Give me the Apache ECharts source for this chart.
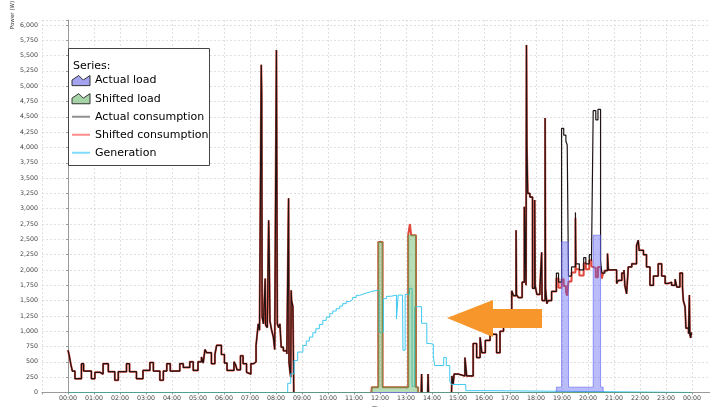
<!DOCTYPE html>
<html><head><meta charset="utf-8">
<script src="https://cdn.jsdelivr.net/npm/echarts/dist/echarts.min.js"></script>
<style>html,body{margin:0;padding:0;background:#fff}#c{width:710px;height:407px}</style>
</head><body><div id="c"></div>
<script>
// ---- tick labels ----
const yTickStep = 250;
const yMaxTick = 6000;

// ---- Actual consumption (W), step series ----
const consTimes = ['00:00','00:03','00:06','00:10','00:16','00:31','00:36','00:54','01:02','01:14','01:21','01:33','01:48','01:56','02:15','02:22','02:38','02:53','03:09','03:17','03:32','03:40','03:48','03:56','04:18','04:26','04:41','04:49','05:00','05:08','05:12','05:16','05:20','05:31','05:39','05:43','05:54','06:01','06:07','06:23','06:27','06:30','06:38','06:44','06:52','06:56','07:02','07:08','07:14','07:17','07:19','07:22','07:26','07:27','07:28','07:31','07:35','07:36','07:40','07:43','07:44','07:46','07:50','07:54','07:57','08:01','08:03','08:06','08:09','08:12','08:17','08:25','08:29','08:30','08:32','08:34','08:35','08:36','08:39','08:41','08:42',
'13:35','13:36','13:37','13:38','13:50','13:51','13:52','13:53',
'14:45','14:46','14:49','14:51','15:01','15:16','15:20','15:35','15:43','15:51','15:55','16:03','16:14','16:29','16:37','16:45','16:52','17:04','17:08','17:14','17:15','17:19','17:28','17:33','17:37','17:38','17:39','17:41','17:46','17:52','17:57','17:58','18:02','18:09','18:13','18:14','18:21','18:22','18:25','18:28','18:36','18:47','18:52','18:59','19:04','19:09','19:12','19:15','19:22','19:31','19:32','19:40','19:50','19:55','20:03','20:08','20:12','20:18','20:23','20:29','20:32','20:39','20:45','20:47','21:06','21:10','21:18','21:23','21:25','21:29','21:33','21:41','21:52','21:56','21:58','22:08','22:15','22:23','22:31','22:42','22:50','22:58','23:05','23:13','23:21','23:25','23:32','23:38','23:40','23:44','23:46','23:52','23:54','23:55','23:57','23:58','23:59'];
const consActual = [690,600,480,350,225,470,350,225,330,300,470,340,200,340,470,340,225,360,490,350,200,350,470,350,470,410,500,360,500,580,480,700,650,470,620,770,620,480,360,500,450,370,600,470,330,300,470,500,770,980,1120,1015,5350,4880,1230,1120,1860,1100,1060,2810,2480,1170,1015,900,700,5590,1120,1060,1120,740,680,630,3170,500,360,250,1670,1500,1400,0,null,
0,300,0,null,0,300,0,null,
0,270,140,300,270,570,270,800,570,900,650,850,950,650,1000,1280,1300,1660,1580,2650,1600,1550,1800,3030,1750,5670,4010,3250,3190,1700,3140,1750,1600,1700,2290,1500,4480,1700,1450,1500,1650,1950,1800,4310,4200,4100,4040,1900,2050,2940,2100,2000,2200,2100,2250,2150,4600,4450,4620,2150,1950,1990,2270,2000,1780,1830,1950,2000,1750,1610,2050,2100,2400,2485,2320,2250,2050,1750,1900,2100,1900,1780,1800,1750,1850,1720,1950,1720,1500,1400,1050,960,1590,950,890,980,940];

// ---- Shifted consumption: where it differs from actual consumption ----
const shiftMidTimes = ['11:40','11:41','11:56','12:06','13:05','13:09','13:12','13:23','13:28','13:29'];
const shiftMidValues = [0,87,2457,87,2567,2750,2567,87,0,null];
const shiftEveTimes = ['18:47','18:52','18:59','19:04','19:09','19:12','19:15','19:22','19:31','19:32','19:40','19:50','19:55','20:03','20:08','20:12','20:18','20:23','20:29','20:32','20:35'];
const shiftEveValues = [1860,1710,1850,1740,1640,1580,1810,1960,2850,2010,1910,2110,2010,2160,2060,2030,1880,2050,2060,1860,1950];

// ---- Generation (W) ----
const genTimes = ['00:00','08:19','08:27','08:34','08:42','08:50','09:02','09:10','09:17','09:25','09:32','09:40','09:48','09:56','10:04','10:11','10:19','10:27','10:34','10:42','10:50','10:57','11:05','11:13','11:21','11:29','11:37','11:45','11:58','12:08','12:15','12:25','12:38','12:42','12:52','12:53','12:58','13:08','13:14','13:20','13:36','13:48','13:55','14:03','14:06','14:27','14:33','14:41','14:45','15:18','16:18','24:00'];
const genValues = [0,0,150,305,523,660,768,840,905,975,1041,1110,1177,1230,1286,1330,1368,1410,1450,1485,1515,1550,1586,1605,1624,1640,1657,1668,986,1532,1570,1590,1200,1590,1560,690,1600,1700,100,1400,1130,800,790,600,440,570,440,180,130,30,0,0];

// ---- Loads (W) ----
const actualLoadTimes = ['00:00','18:47','18:59','19:15','20:12','20:29','20:35','24:00'];
const actualLoadValues = [0,87,2457,87,2567,87,0,0];
const shiftedLoadTimes = ['00:00','11:41','11:56','12:06','13:05','13:23','13:28','24:00'];
const shiftedLoadValues = [0,87,2457,87,2567,87,0,0];

function toH(t){const p=t.split(':');return +p[0]+(+p[1])/60;}
function pts(times, vals){return times.map((t,i)=>[toH(t), vals[i]]);}
function splice(base, seg){
  const a = seg[0][0], b = seg[seg.length-1][0];
  return base.filter(p=>p[0]<a).concat(seg, base.filter(p=>p[0]>b));
}
const actualPts = pts(consTimes, consActual);
const shiftedPts = splice(splice(actualPts, pts(shiftMidTimes, shiftMidValues)), pts(shiftEveTimes, shiftEveValues));

const FONT = 'DejaVu Sans';
const areaIcon = 'path://M0,4 L6,0 L10,4 L16,0 L16,9 L0,9 Z';
const lineIcon = 'path://M0,0 L18,0 L18,2 L0,2 Z';

const chart = echarts.init(document.getElementById('c'), null, {renderer:'canvas'});
chart.setOption({
  animation:false,
  grid:{left:42, right:-8, top:20, bottom:14.5, containLabel:false, outerBoundsMode:'none'},
  xAxis:{type:'value', min:-1, max:25, interval:1,
    name:'Time', nameLocation:'middle', nameGap:11,
    nameTextStyle:{fontFamily:FONT, fontSize:6.3, color:'#333'},
    axisLine:{show:true, lineStyle:{color:'#999', width:1}},
    axisTick:{show:true, length:2, lineStyle:{color:'#999'}},
    axisLabel:{margin:3, fontFamily:FONT, fontSize:6.3, color:'#444',
      formatter:v=>(v<0||v>24)?'':(String(v%24).padStart(2,'0')+':00')},
    splitLine:{show:true, lineStyle:{color:'#d9d9d9', type:[2,2], width:0.8}}
  },
  yAxis:{type:'value', min:0, max:6080, interval:yTickStep,
    axisLine:{show:true, lineStyle:{color:'#999', width:1}},
    axisTick:{show:true, length:2, lineStyle:{color:'#999'}},
    axisLabel:{margin:4, fontFamily:FONT, fontSize:6.3, color:'#444',
      formatter:v=>(v%yTickStep===0 && v<=yMaxTick)?v.toLocaleString('en-US'):''},
    splitLine:{show:true, lineStyle:{color:'#d9d9d9', type:[2,2], width:0.8}}
  },
  legend:{orient:'vertical', left:71.5, top:75, padding:0, itemGap:7, itemWidth:18, itemHeight:12, z:20,
    textStyle:{fontFamily:FONT, fontSize:11, color:'#000'}, selectedMode:false,
    data:[
      {name:'Actual load', icon:areaIcon, itemStyle:{color:'#a3a3f0', borderColor:'#333', borderWidth:1}},
      {name:'Shifted load', icon:areaIcon, itemStyle:{color:'#a6d4a6', borderColor:'#333', borderWidth:1}},
      {name:'Actual consumption', icon:lineIcon, itemStyle:{color:'#8f8f8f', borderWidth:0}, lineStyle:{width:0}},
      {name:'Shifted consumption', icon:lineIcon, itemStyle:{color:'#ff8c8c', borderWidth:0}, lineStyle:{width:0}},
      {name:'Generation', icon:lineIcon, itemStyle:{color:'#7fdcff', borderWidth:0}, lineStyle:{width:0}}
    ]},
  graphic:[
    {type:'text', z:11, x:13, y:15, rotation:Math.PI/2, style:{text:'Power (W)', fontFamily:FONT, fontSize:5.6, fill:'#333', align:'center', verticalAlign:'middle'}},
    {type:'rect', z:10, shape:{x:68.5, y:48.5, width:141, height:117}, style:{fill:'#fff', stroke:'#444', lineWidth:1}},
    {type:'text', z:11, x:73, y:66, style:{text:'Series:', fontFamily:FONT, fontSize:11, fill:'#000', verticalAlign:'middle'}},
    {type:'polygon', z:10, shape:{points:[[447,318],[493,300],[493,309],[542,309],[542,328],[493,328],[493,337]]}, style:{fill:'#f7962a'}}
  ],
  series:[
    {name:'Shifted consumption', type:'line', step:'end', showSymbol:false, z:2, data:shiftedPts,
      color:'#e0483c', lineStyle:{color:'#e0483c', width:2}},
    {name:'Actual consumption', type:'line', step:'end', showSymbol:false, z:2, data:actualPts,
      color:'#1e1414', lineStyle:{color:'#1e1414', width:1.2}},
    {name:'Generation', type:'line', step:'end', showSymbol:false, z:2, data:pts(genTimes, genValues),
      color:'#3fc9f2', lineStyle:{color:'#3fc9f2', width:1}},
    {name:'Actual load', type:'line', step:'end', showSymbol:false, z:3, data:pts(actualLoadTimes, actualLoadValues),
      color:'#5a5ff0', lineStyle:{color:'rgba(90,95,240,0.6)', width:1}, areaStyle:{color:'rgba(90,95,240,0.6)'}},
    {name:'Shifted load', type:'line', step:'end', showSymbol:false, z:3, data:pts(shiftedLoadTimes, shiftedLoadValues),
      color:'#50af50', lineStyle:{color:'rgba(80,175,80,0.6)', width:1}, areaStyle:{color:'rgba(80,175,80,0.6)'}}
  ]
});
</script></body></html>
